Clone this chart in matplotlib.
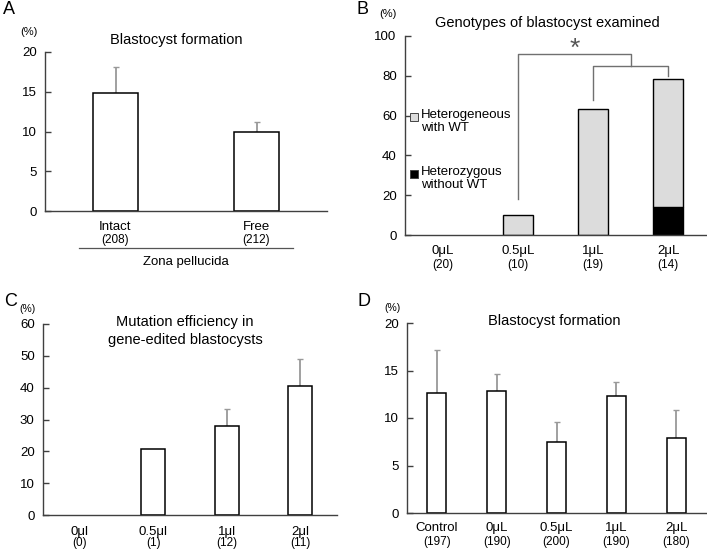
import matplotlib
matplotlib.use("Agg")
import matplotlib.pyplot as plt
from matplotlib.patches import Rectangle
from matplotlib.lines import Line2D

plt.rcParams['font.family'] = ['Liberation Sans', 'DejaVu Sans']

# ---------------- data ----------------
a_cats = ["Intact", "Free"]
a_counts = ["(208)", "(212)"]
a_vals = [14.9, 9.9]
a_err = [3.2, 1.3]

b_cats = ["0\u03bcL", "0.5\u03bcL", "1\u03bcL", "2\u03bcL"]
b_counts = ["(20)", "(10)", "(19)", "(14)"]
b_hetero_wt = [0.0, 10.0, 63.2, 64.3]     # grey segment
b_hetero_nowt = [0.0, 0.0, 0.0, 14.3]     # black segment
# significance brackets: (x_left, x_right, y_top, y_left_end, y_right_end)
b_brackets = [(1.0, 2.5, 91.0, 18.0, 85.0), (2.0, 3.0, 85.0, 68.0, 80.0)]

c_cats = ["0\u03bcl", "0.5\u03bcl", "1\u03bcl", "2\u03bcl"]
c_counts = ["(0)", "(1)", "(12)", "(11)"]
c_vals = [0.0, 20.8, 28.0, 40.6]
c_err = [0.0, 0.0, 5.3, 8.5]

d_cats = ["Control", "0\u03bcL", "0.5\u03bcL", "1\u03bcL", "2\u03bcL"]
d_counts = ["(197)", "(190)", "(200)", "(190)", "(180)"]
d_vals = [12.6, 12.8, 7.5, 12.3, 7.9]
d_err = [4.6, 1.8, 2.1, 1.5, 2.9]

# ---------------- layout helpers ----------------
W, H = 707, 551
fig = plt.figure(figsize=(W / 100, H / 100), dpi=100)
fig.patch.set_facecolor("white")

def add_ax(x0, y_top, x1, y_bot):
    return fig.add_axes([x0 / W, 1 - y_bot / H, (x1 - x0) / W, (y_bot - y_top) / H])

def ftext(x, y, s, **kw):
    fig.text(x / W, 1 - y / H, s, **kw)

SPINE = "#404040"
ERRC = "#999999"

def style(ax, ylim, yticks, ncat, fs=9.5):
    ax.set_xlim(-0.5, ncat - 0.5)
    ax.set_ylim(*ylim)
    ax.set_yticks(yticks)
    for s in ["top", "right"]:
        ax.spines[s].set_visible(False)
    for s in ["left", "bottom"]:
        ax.spines[s].set_color(SPINE)
        ax.spines[s].set_linewidth(1.0)
    ax.tick_params(axis="y", direction="in", length=4, width=1.0, color=SPINE,
                   labelsize=fs, pad=6)
    ax.tick_params(axis="x", length=0)
    ax.set_xticks([])
    ax.patch.set_alpha(0)

def cat_labels(ax, cats, counts, off1, off2, fs1, fs2):
    for i, (c, n) in enumerate(zip(cats, counts)):
        ax.annotate(c, xy=(i, 0), xycoords=("data", "axes fraction"),
                    xytext=(0, -off1 * 0.72), textcoords="offset points",
                    ha="center", va="center", fontsize=fs1)
        ax.annotate(n, xy=(i, 0), xycoords=("data", "axes fraction"),
                    xytext=(0, -off2 * 0.72), textcoords="offset points",
                    ha="center", va="center", fontsize=fs2)

def errbars(ax, vals, errs):
    for i, (v, e) in enumerate(zip(vals, errs)):
        if e > 0:
            ax.errorbar([i], [v], yerr=[[0], [e]], fmt="none", ecolor=ERRC,
                        elinewidth=1.3, capsize=2.5, capthick=1.0, zorder=1)

def edges(vals):
    return ["none" if v == 0 else "black" for v in vals]

# ---------------- Panel A ----------------
axA = add_ax(45, 52, 327, 211)
style(axA, (0, 20), [0, 5, 10, 15, 20], len(a_cats))
errbars(axA, a_vals, a_err)
axA.bar(range(len(a_vals)), a_vals, width=0.32, color="white",
        edgecolor="black", linewidth=1.1, zorder=2)
cat_labels(axA, a_cats, a_counts, 16, 29, 9.5, 8.5)
fig.add_artist(Line2D([79 / W, 293 / W], [1 - 248 / H, 1 - 248 / H],
                      color="#555555", linewidth=0.9))
ftext(186, 262, "Zona pellucida", ha="center", va="center", fontsize=9.5)
ftext(176, 40, "Blastocyst formation", ha="center", va="center", fontsize=10.5)
ftext(29, 32, "(%)", ha="center", va="center", fontsize=8)
ftext(9, 10, "A", ha="center", va="center", fontsize=13)

# ---------------- Panel B ----------------
axB = add_ax(405, 36, 706, 235)
style(axB, (0, 100), [0, 20, 40, 60, 80, 100], len(b_cats))
xb = list(range(len(b_cats)))
b_tot = [a + b for a, b in zip(b_hetero_wt, b_hetero_nowt)]
axB.bar(xb, b_hetero_nowt, width=0.4, color="black",
        edgecolor=edges(b_hetero_nowt), linewidth=1.0, zorder=2)
axB.bar(xb, b_hetero_wt, width=0.4, bottom=b_hetero_nowt, color="#dcdcdc",
        edgecolor=edges(b_tot), linewidth=1.0, zorder=2)
for (xl, xr, yt, yl, yr) in b_brackets:
    axB.plot([xl, xl, xr, xr], [yl, yt, yt, yr], color="#707070",
             linewidth=1.0, zorder=1, clip_on=False)
axB.text(1.76, 93.5, "*", ha="center", va="center", fontsize=19, color="#555555")
cat_labels(axB, b_cats, b_counts, 16, 30, 9.5, 8.5)
# legend
for yc, col, lab in [(117, "#dcdcdc", "Heterogeneous\nwith WT"),
                     (174, "black", "Heterozygous\nwithout WT")]:
    sq = 8
    fig.add_artist(Rectangle(((414 - sq / 2) / W, 1 - (yc + sq / 2) / H),
                             sq / W, sq / H, facecolor=col, edgecolor="#444444",
                             linewidth=0.7, transform=fig.transFigure))
    ftext(421, yc - 8, lab, ha="left", va="top", fontsize=9.5, linespacing=1.1)
ftext(547, 23, "Genotypes of blastocyst examined", ha="center", va="center",
      fontsize=10.5)
ftext(388, 14, "(%)", ha="center", va="center", fontsize=8)
ftext(362, 10, "B", ha="center", va="center", fontsize=13)

# ---------------- Panel C ----------------
axC = add_ax(43, 324, 337, 515)
style(axC, (0, 60), [0, 10, 20, 30, 40, 50, 60], len(c_cats))
errbars(axC, c_vals, c_err)
axC.bar(range(len(c_vals)), c_vals, width=0.32,
        color="white", edgecolor=edges(c_vals), linewidth=1.1, zorder=2)
cat_labels(axC, c_cats, c_counts, 17, 28, 9.5, 8.5)
ftext(185, 322, "Mutation efficiency in", ha="center", va="center", fontsize=10.5)
ftext(185, 340, "gene-edited blastocysts", ha="center", va="center", fontsize=10.5)
ftext(28, 309, "(%)", ha="center", va="center", fontsize=7.5)
ftext(11, 302, "C", ha="center", va="center", fontsize=13)

# ---------------- Panel D ----------------
axD = add_ax(407, 323, 706, 513)
style(axD, (0, 20), [0, 5, 10, 15, 20], len(d_cats))
errbars(axD, d_vals, d_err)
axD.bar(range(len(d_vals)), d_vals, width=0.32, color="white",
        edgecolor="black", linewidth=1.1, zorder=2)
cat_labels(axD, d_cats, d_counts, 15, 29, 9.5, 8.5)
ftext(554, 321, "Blastocyst formation", ha="center", va="center", fontsize=10.5)
ftext(392, 308, "(%)", ha="center", va="center", fontsize=7.5)
ftext(364, 302, "D", ha="center", va="center", fontsize=13)

fig.savefig("out.png", dpi=100, facecolor="white")
